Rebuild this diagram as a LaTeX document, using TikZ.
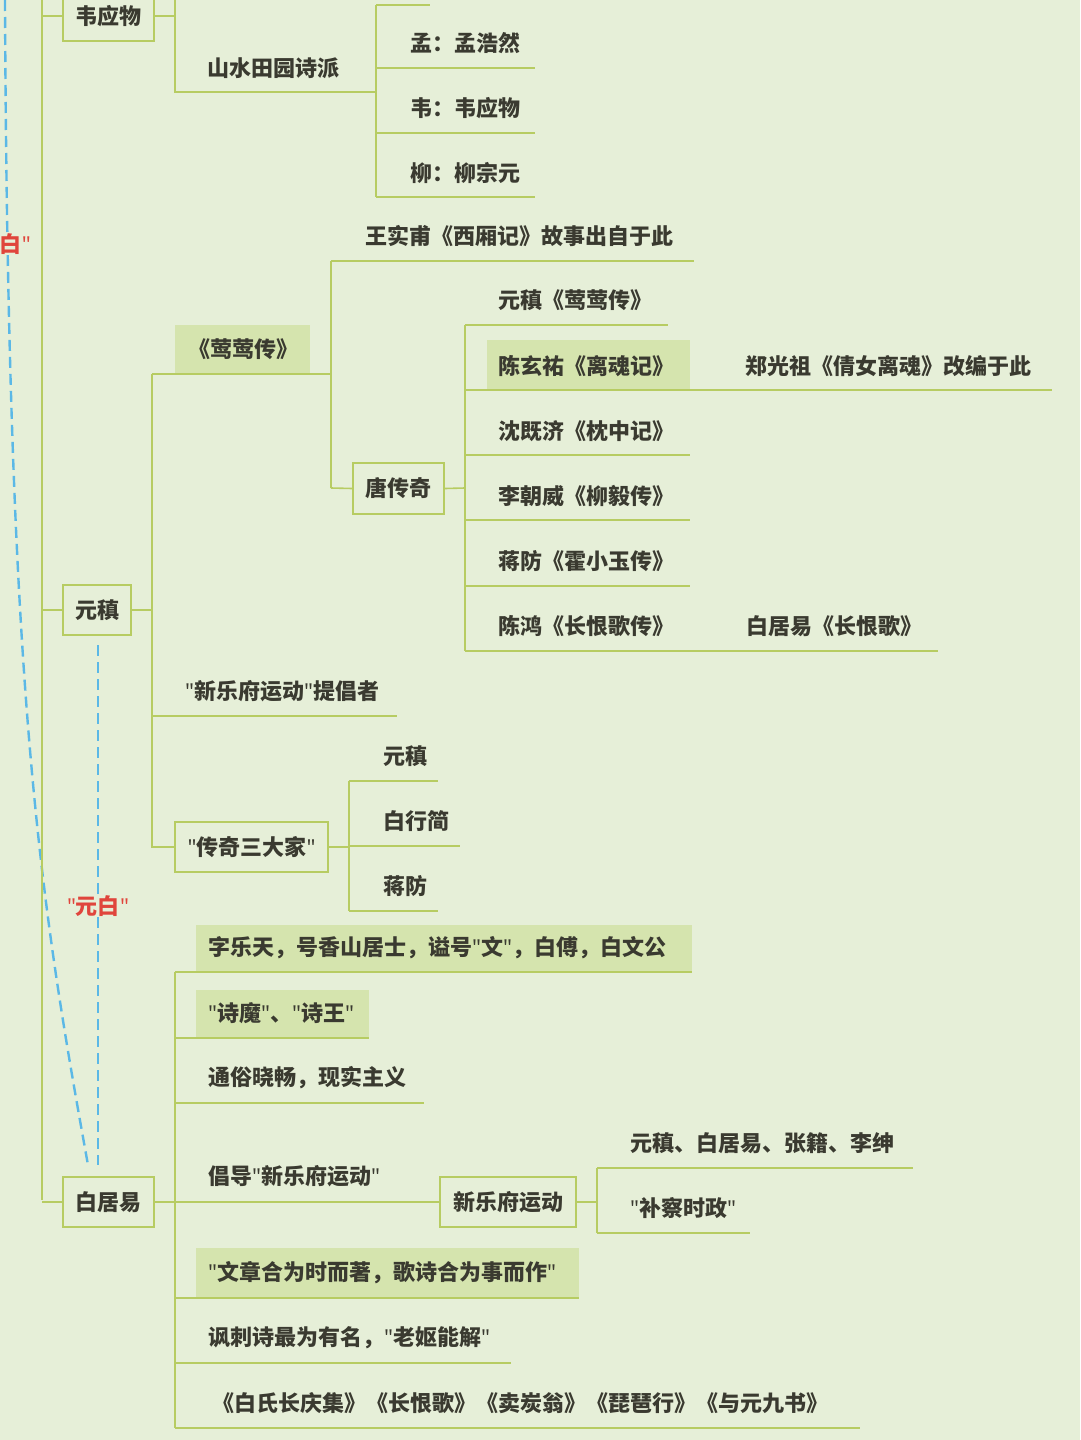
\documentclass[tikz,border=0pt]{standalone}
\usepackage{fontspec}
\setmainfont{Noto Sans CJK SC}
\newfontfamily\qf{Noto Sans}
\newcommand\dq[1]{{\qf"}#1{\qf"}}
\definecolor{bg}{HTML}{E6EFD8}
\definecolor{lc}{HTML}{B7CC62}
\definecolor{hl}{HTML}{D5E4AE}
\definecolor{tx}{HTML}{3A3A30}
\definecolor{dash}{HTML}{5BB8E6}
\definecolor{red}{HTML}{E0453C}
\begin{document}
\begin{tikzpicture}[x=1pt,y=-1pt,
  ln/.style={draw=lc,line width=1.6pt},
  t/.style={anchor=west,inner sep=0pt,text=tx,font=\fontsize{22}{25}\selectfont\bfseries},
  bx/.style={draw=lc,line width=1.6pt,text=tx,font=\fontsize{22}{25}\selectfont\bfseries,inner sep=0pt},
  hbox/.style={fill=hl,inner sep=0pt},
  dl/.style={draw=dash,line width=2.4pt,dash pattern=on 11pt off 6pt},
  rl/.style={text=red,font=\fontsize{22}{25}\selectfont\bfseries}]
\useasboundingbox[fill=bg] (0,0) rectangle (1080,1440);
% dashed relations
\draw[dl] (5,0) .. controls (8,700) and (40,900) .. (88,1165);
\node[rl,fill=bg,inner sep=1pt] (yb1) at (0,244) {\dq{元白}};
\draw[dl] (98,645) -- (98,1165);
\node[rl,fill=bg,inner sep=1pt] (yb2) at (98,906) {\dq{元白}};
% main trunk
\draw[ln] (42,-2) -- (42,1200);
\node[bx,minimum width=91pt,minimum height=50pt] (wei) at (108.5,16) {韦应物};
\node[bx,minimum width=68pt,minimum height=50pt] (yuan) at (97,610) {元稹};
\node[bx,minimum width=91pt,minimum height=50pt] (bai) at (108.5,1202) {白居易};
\draw[ln] (42,16) -- (wei.west); \draw[ln] (42,610) -- (yuan.west); \draw[ln] (42,1202) -- (bai.west);
% 韦应物 branch
\draw[ln] (wei.east) -- (175,16);
\draw[ln] (175,-2) -- (175,92) -- (376,92);
\node[t] (ss) at (207,68) {山水田园诗派};
\draw[ln] (376,5) -- (376,197);
\draw[ln] (376,5) -- (430,5);
\node[t] (m) at (410,43) {孟：孟浩然}; \draw[ln] (376,68) -- (535,68);
\node[t] (w) at (410,108) {韦：韦应物}; \draw[ln] (376,133) -- (535,133);
\node[t] (l) at (410,173) {柳：柳宗元}; \draw[ln] (376,197) -- (535,197);
% 元稹 branch
\draw[ln] (yuan.east) -- (152,610);
\draw[ln] (152,374) -- (152,848);
\node[hbox,minimum width=135pt,minimum height=49pt] (yy) at (242.5,349.5) {};
\node[t] at (188,349) {《莺莺传》};
\draw[ln] (152,374) -- (331,374);
\draw[ln] (331,261) -- (331,488);
\node[t] (wsf) at (365,236) {王实甫《西厢记》故事出自于此};
\draw[ln] (331,261) -- (694,261);
\node[bx,minimum width=91pt,minimum height=51pt] (tcq) at (398.5,488.5) {唐传奇};
\draw[ln] (331,488) -- (tcq.west);
\draw[ln] (tcq.east) -- (465,488);
\draw[ln] (465,325) -- (465,651);
\node[t] at (498,300) {元稹《莺莺传》}; \draw[ln] (465,325) -- (668,325);
\node[hbox,minimum width=203pt,minimum height=50pt] (cxy) at (588.5,365) {};
\node[t] at (498,366) {陈玄祐《离魂记》};
\node[t] at (745,366) {郑光祖《倩女离魂》改编于此}; \draw[ln] (465,390) -- (1052,390);
\node[t] at (498,431) {沈既济《枕中记》}; \draw[ln] (465,455) -- (690,455);
\node[t] at (498,496) {李朝威《柳毅传》}; \draw[ln] (465,520) -- (690,520);
\node[t] at (498,561) {蒋防《霍小玉传》}; \draw[ln] (465,586) -- (690,586);
\node[t] at (498,626) {陈鸿《长恨歌传》};
\node[t] at (746,626) {白居易《长恨歌》}; \draw[ln] (465,651) -- (938,651);
\node[t] (xyf) at (185,691) {\dq{新乐府运动}提倡者}; \draw[ln] (152,716) -- (397,716);
\node[bx,minimum width=153pt,minimum height=50pt] (cq) at (251.5,847) {\dq{传奇三大家}};
\draw[ln] (152,847) -- (cq.west);
\draw[ln] (cq.east) -- (349,847);
\draw[ln] (349,781) -- (349,911);
\node[t] at (383,756) {元稹}; \draw[ln] (349,781) -- (438,781);
\node[t] at (383,821) {白行简}; \draw[ln] (349,846) -- (460,846);
\node[t] at (383,886) {蒋防}; \draw[ln] (349,911) -- (438,911);
% 白居易 branch
\draw[ln] (bai.east) -- (175,1202);
\draw[ln] (175,972) -- (175,1428);
\node[hbox,minimum width=496pt,minimum height=47pt] at (444,948.5) {};
\node[t] at (208,948) {字乐天，号香山居士，谥号\dq{文}，白傅，白文公}; \draw[ln] (175,972) -- (692,972);
\node[hbox,minimum width=173pt,minimum height=48pt] at (282.5,1014) {};
\node[t] at (208,1013) {\dq{诗魔}、\dq{诗王}}; \draw[ln] (175,1038) -- (369,1038);
\node[t] at (208,1078) {通俗晓畅，现实主义}; \draw[ln] (175,1103) -- (424,1103);
\node[t] at (208,1176) {倡导\dq{新乐府运动}};
\node[bx,minimum width=136pt,minimum height=50pt] (xyfy) at (508,1202) {新乐府运动};
\draw[ln] (175,1202) -- (xyfy.west);
\draw[ln] (xyfy.east) -- (597,1202);
\draw[ln] (597,1168) -- (597,1233);
\node[t] at (630,1143) {元稹、白居易、张籍、李绅}; \draw[ln] (597,1168) -- (913,1168);
\node[t] at (630,1208) {\dq{补察时政}}; \draw[ln] (597,1233) -- (750,1233);
\node[hbox,minimum width=383pt,minimum height=50pt] at (387.5,1273) {};
\node[t] at (208,1273) {\dq{文章合为时而著，歌诗合为事而作}}; \draw[ln] (175,1298) -- (579,1298);
\node[t] at (208,1338) {讽刺诗最为有名，\dq{老妪能解}}; \draw[ln] (175,1363) -- (511,1363);
\node[t] at (212,1403) {《白氏长庆集》《长恨歌》《卖炭翁》《琵琶行》《与元九书》}; \draw[ln] (175,1428) -- (860,1428);
\end{tikzpicture}
\end{document}
